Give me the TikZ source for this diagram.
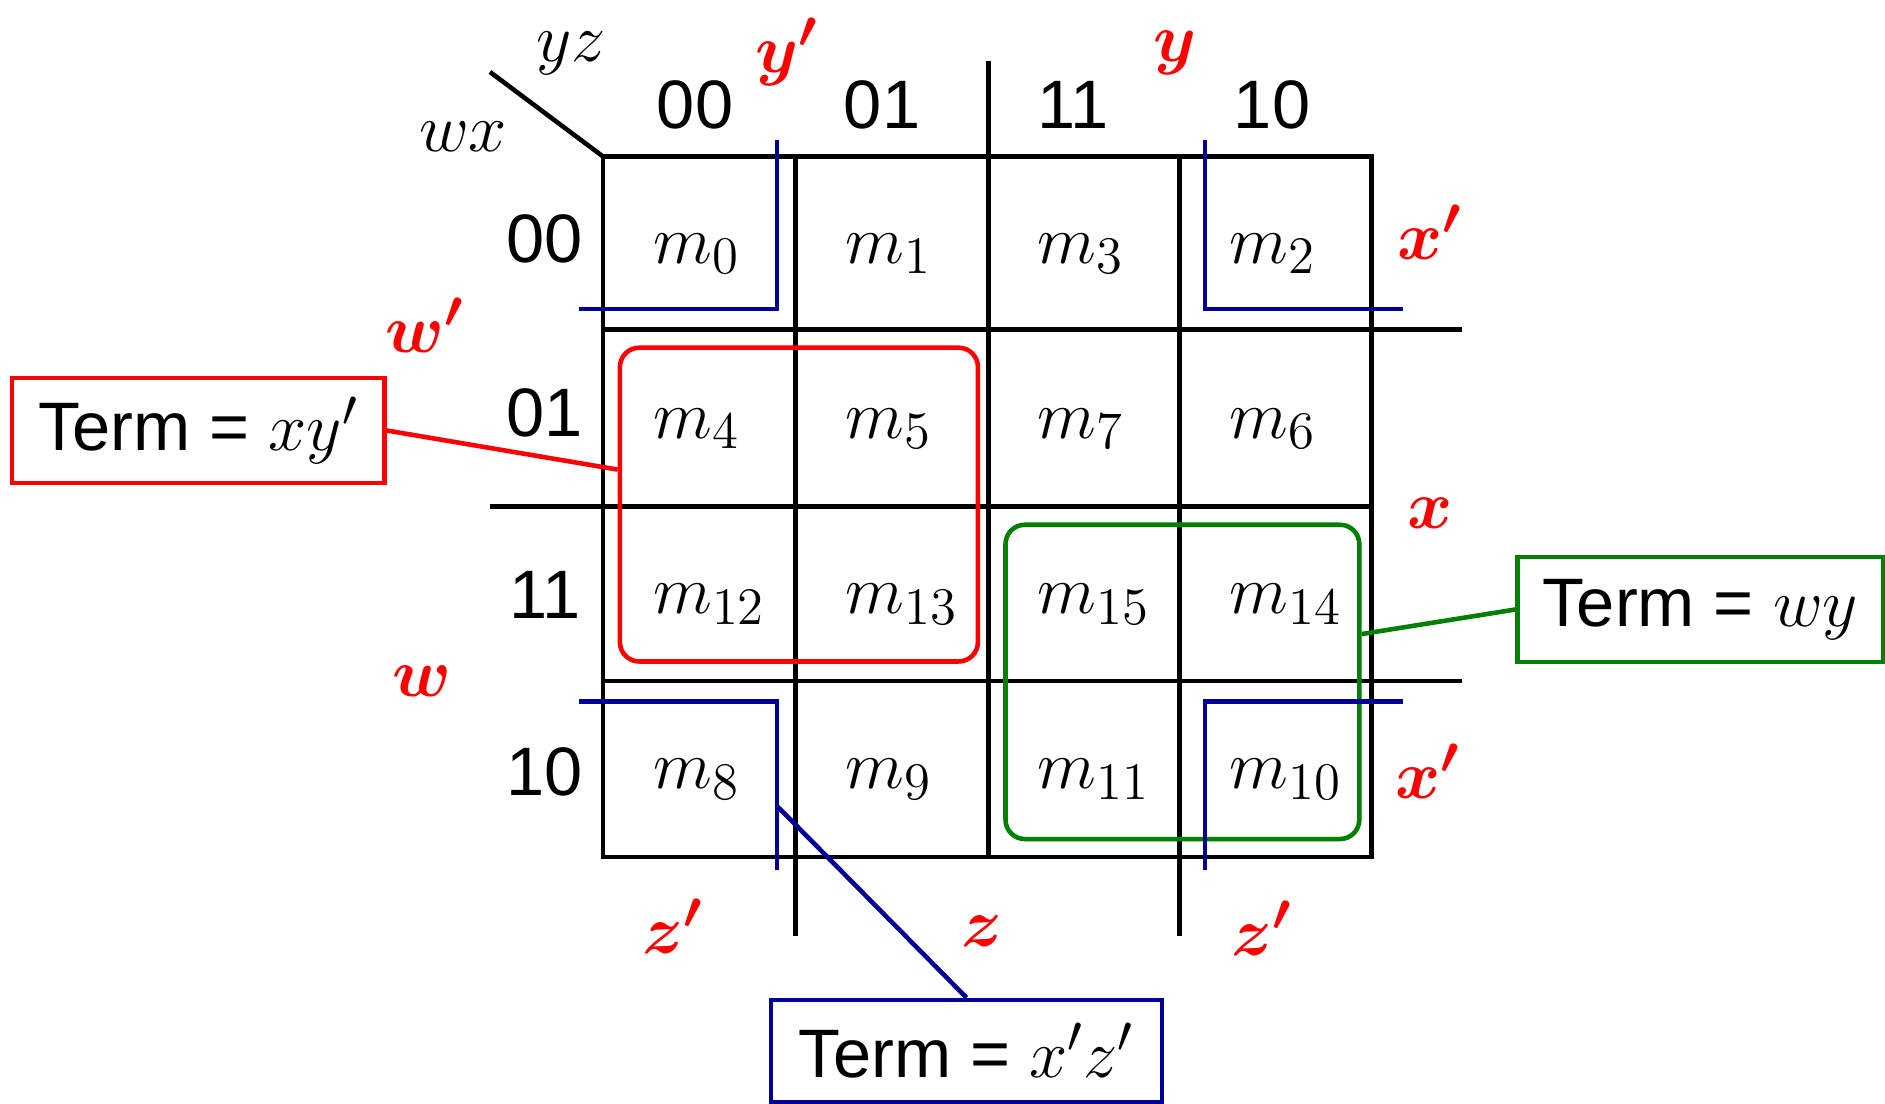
\RequirePackage{fix-cm}
\documentclass[tikz,border=0pt]{standalone}
\usepackage{amsmath}
\usepackage{fontspec}
\setmainfont{Liberation Sans}
\usepackage{tikz}
\usetikzlibrary{calc, positioning}
\DeclareMathSizes{19.5}{19.5}{15}{11}
\definecolor{kred}{RGB}{255,0,0}
\definecolor{kgreen}{RGB}{0,128,0}
\definecolor{kblue}{RGB}{0,0,153}

\begin{document}
\begin{tikzpicture}[x=0.01cm, y=-0.01cm, line width=1.3pt,
  every node/.style={font=\fontsize{19.5}{23}\selectfont, inner sep=0pt},
  cell/.style={anchor=base west},
  hdr/.style={anchor=center},
  lbl/.style={text=kred, anchor=center},
  grp/.style={draw, rounded corners=5.5pt},
  term/.style={draw, minimum height=1.05cm}]
\useasboundingbox (0,0) rectangle (1885,1104);

% the map itself
\draw (603,156.5) rectangle (1371.5,856.8);
\draw (795.7,156.5) -- (795.7,936);
\draw (988.5,61) -- (988.5,856.8);
\draw (1179.7,156.5) -- (1179.7,936);
\draw (603,329.4) -- (1461.6,329.4);
\draw (490,506.3) -- (1371.5,506.3);
\draw (603,680.8) -- (1461.6,680.8);
\draw (490,72) -- (603,156.5);

\node (yz) at (571,53) {$yz$};
\node (wx) at (463,137) {$wx$};

% headers
\foreach \c/\txt [count=\i from 0] in {695/00, 882/01, 1073/11, 1272/10}
  \node[hdr] (col\i) at (\c,104.7) {\txt};
\foreach \r/\txt [count=\i from 0] in {239/00, 413/01, 595/11, 772/10}
  \node[hdr] (row\i) at (545,\r) {\txt};

% minterms
\foreach \c/\gc in {0/0, 1/1, 2/3, 3/2}
  \foreach \r/\gr in {0/0, 1/1, 2/3, 3/2} {
    \pgfmathtruncatemacro\mt{4*\gr+\gc}
    \node[cell] (m\mt) at (651+192.2*\c, 263.5+175.1*\r) {$m_{\mt}$};
  }

% variable labels
\node[lbl] (yp) at (787,52) {$\boldsymbol{y'}$};
\node[lbl] (y) at (1175,53) {$\boldsymbol{y}$};
\node[lbl] (xp1) at (1430,232) {$\boldsymbol{x'}$};
\node[lbl] (x) at (1430,513) {$\boldsymbol{x}$};
\node[lbl] (xp2) at (1428,771) {$\boldsymbol{x'}$};
\node[lbl] (wp) at (425,325) {$\boldsymbol{w'}$};
\node[lbl] (w) at (422,681) {$\boldsymbol{w}$};
\node[lbl] (zp1) at (673,926) {$\boldsymbol{z'}$};
\node[lbl] (z) at (982,931) {$\boldsymbol{z}$};
\node[lbl] (zp2) at (1262,928) {$\boldsymbol{z'}$};

% groups
\node[grp, draw=kred, minimum width=3.578cm, minimum height=3.136cm] (g1) at (798.9,504.6) {};
\node[grp, draw=kgreen, minimum width=3.536cm, minimum height=3.141cm] (g2) at (1182.4,681.9) {};
\draw[kblue] (777,140) -- (777,309) -- (579,309);
\draw[kblue] (1205,140) -- (1205,309) -- (1403,309);
\draw[kblue] (579,701.7) -- (777,701.7) -- (777,870);
\draw[kblue] (1403,701.7) -- (1205,701.7) -- (1205,870);
\coordinate (c8) at (777,806);

% terms
\node[term, draw=kred, minimum width=3.72cm] (t1) at (198.3,430.5) {Term = $xy'$};
\node[term, draw=kgreen, minimum width=3.65cm] (t2) at (1700.3,609.5) {Term = $wy$};
\node[term, draw=kblue, minimum width=3.91cm, minimum height=1.02cm] (t3) at (966.5,1051) {Term = $x'z'$};

\draw[kred] (t1.east) -- ($(g1.north west)!0.39!(g1.south west)$);
\draw[kgreen] (t2.west) -- ($(g2.north east)!0.35!(g2.south east)$);
\draw[kblue] (c8) -- (t3.north);
\end{tikzpicture}
\end{document}
